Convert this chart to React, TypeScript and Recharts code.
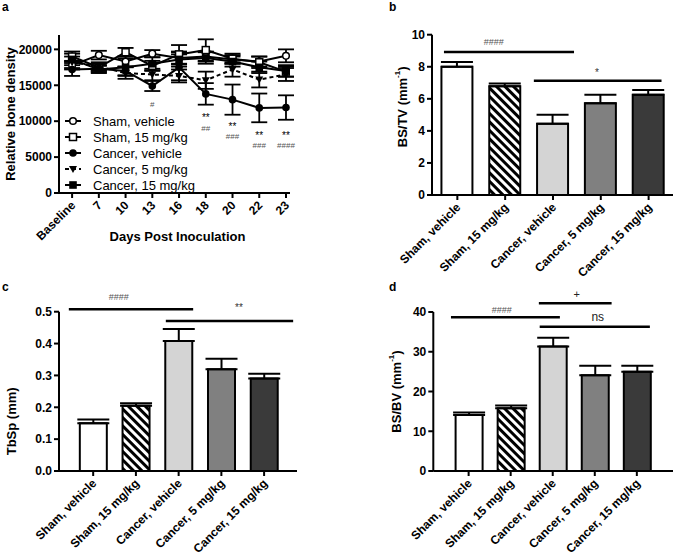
import React from "react"
import {
  LineChart,
  Line,
  BarChart,
  Bar,
  Cell,
  XAxis,
  YAxis,
  ErrorBar,
  ReferenceLine,
  ReferenceDot,
  Legend,
} from "recharts"

const font = '"Liberation Sans", Arial, Helvetica, sans-serif'

// ---- panel a: bone density over time ----
const days = ["Baseline", "7", "10", "13", "16", "18", "20", "22", "23"]
const shamVehicle = [17800, 19200, 18300, 19400, 18800, 19000, 18600, 18300, 19100]
const shamVehicleErr = [600, 600, 700, 500, 900, 700, 600, 700, 900]
const sham15 = [19000, 17500, 19600, 17700, 19300, 19900, 18700, 18200, 16900]
const sham15Err = [700, 500, 600, 700, 1300, 1500, 700, 800, 700]
const cancerVehicle = [17200, 17300, 17000, 14900, 17500, 13800, 13000, 11850, 11900]
const cancerVehicleErr = [900, 500, 600, 700, 1800, 1500, 2100, 2000, 1700]
const cancer5 = [18200, 17600, 16700, 16500, 16300, 15700, 17200, 15800, 16500]
const cancer5Err = [800, 600, 800, 800, 900, 1200, 1000, 1100, 900]
const cancer15 = [18600, 17200, 17500, 18000, 18600, 18800, 18300, 17500, 17000]
const cancer15Err = [800, 500, 1200, 900, 1000, 800, 700, 800, 800]

const starNotes = [
  { day: 5, v: 10450, text: "**" },
  { day: 6, v: 9200, text: "**" },
  { day: 7, v: 7950, text: "**" },
  { day: 8, v: 7950, text: "**" },
]
const hashNotes = [
  { day: 3, v: 12270, text: "#" },
  { day: 5, v: 8920, text: "##" },
  { day: 6, v: 7800, text: "###" },
  { day: 7, v: 6550, text: "###" },
  { day: 8, v: 6550, text: "####" },
]

// ---- panels b, c, d ----
const groups = ["Sham, vehicle", "Sham, 15 mg/kg", "Cancer, vehicle", "Cancer, 5 mg/kg", "Cancer, 15 mg/kg"]
const bsTv = [8.0, 6.78, 4.45, 5.72, 6.25]
const bsTvErr = [0.3, 0.17, 0.55, 0.53, 0.3]
const tbSp = [0.15, 0.205, 0.408, 0.319, 0.29]
const tbSpErr = [0.012, 0.008, 0.038, 0.033, 0.015]
const bsBv = [14.1, 15.8, 31.3, 24.1, 25.0]
const bsBvErr = [0.6, 0.7, 2.2, 2.4, 1.5]

// significance brackets (x in group index units, y in data units)
const bsTvBrackets = [
  { x1: -0.28, x2: 2.44, y: 8.92, tx: 0.76, ty: 9.56, text: "####", size: 9, color: "#555" },
  { x1: 1.6, x2: 4.27, y: 7.13, tx: 2.92, ty: 7.63, text: "*", size: 10, color: "#333" },
]
const tbSpBrackets = [
  { x1: -0.57, x2: 2.34, y: 0.508, tx: 0.6, ty: 0.546, text: "####", size: 9, color: "#555" },
  { x1: 1.7, x2: 4.68, y: 0.471, tx: 3.41, ty: 0.512, text: "**", size: 10, color: "#333" },
]
const bsBvBrackets = [
  { x1: -0.42, x2: 2.17, y: 38.7, tx: 0.79, ty: 40.5, text: "####", size: 9, color: "#555" },
  { x1: 1.67, x2: 3.4, y: 42.2, tx: 2.57, ty: 44.5, text: "+", size: 11, color: "#222" },
  { x1: 1.69, x2: 4.31, y: 36.3, tx: 3.07, ty: 38.7, text: "ns", size: 12, color: "#222" },
]

const barFills = ["#ffffff", "hatch", "#d4d4d4", "#808080", "#3a3a3a"]

const lineData = days.map((d, i) => ({
  idx: i,
  sv: shamVehicle[i],
  svE: shamVehicleErr[i],
  s15: sham15[i],
  s15E: sham15Err[i],
  cv: cancerVehicle[i],
  cvE: cancerVehicleErr[i],
  c5: cancer5[i],
  c5E: cancer5Err[i],
  c15: cancer15[i],
  c15E: cancer15Err[i],
}))

const lineSeries = [
  { key: "sv", err: "svE", name: "Sham, vehicle", shape: "openCircle", dash: undefined },
  { key: "s15", err: "s15E", name: "Sham, 15 mg/kg", shape: "openSquare", dash: undefined },
  { key: "cv", err: "cvE", name: "Cancer, vehicle", shape: "circle", dash: undefined },
  { key: "c5", err: "c5E", name: "Cancer, 5 mg/kg", shape: "triangle", dash: "4 3" },
  { key: "c15", err: "c15E", name: "Cancer, 15 mg/kg", shape: "square", dash: undefined },
]

const toBars = (vals: number[], errs: number[]) =>
  vals.map((v, i) => ({ idx: i, value: v, err: [0, errs[i]] }))

function marker(shape: string, cx: number, cy: number, key?: string) {
  switch (shape) {
    case "openCircle":
      return <circle key={key} cx={cx} cy={cy} r={3.3} fill="#fff" stroke="#000" strokeWidth={1.5} />
    case "openSquare":
      return <rect key={key} x={cx - 3.5} y={cy - 3.5} width={7} height={7} fill="#fff" stroke="#000" strokeWidth={1.5} />
    case "circle":
      return <circle key={key} cx={cx} cy={cy} r={3.8} fill="#000" />
    case "triangle":
      return <polygon key={key} points={`${cx - 4},${cy - 3} ${cx + 4},${cy - 3} ${cx},${cy + 4}`} fill="#000" />
    default:
      return <rect key={key} x={cx - 3.8} y={cy - 3.8} width={7.6} height={7.6} fill="#000" />
  }
}

const axisLine = { stroke: "#000", strokeWidth: 2 }
const tickStyle = { fontFamily: font, fontWeight: "bold", fontSize: 12, fill: "#000" }

function RotTick(props: any) {
  const { x, y, payload, labels } = props
  return (
    <g transform={`translate(${x + 4},${y + 6}) rotate(-45)`}>
      <text x={0} y={0} textAnchor="end" fontFamily={font} fontWeight="bold" fontSize={12} fill="#000">
        {labels[payload.value]}
      </text>
    </g>
  )
}

function YTitle(props: any) {
  const { viewBox, cx, shift, main, sup } = props
  const x = viewBox.x + cx
  const y = viewBox.y + viewBox.height / 2 + shift
  return (
    <text
      transform={`translate(${x},${y}) rotate(-90)`}
      textAnchor="middle"
      dominantBaseline="central"
      fontFamily={font}
      fontWeight="bold"
      fontSize={13}
      fill="#000"
    >
      {main}
      {sup ? <tspan fontSize={8} dy={-5}>{sup}</tspan> : null}
      {sup ? <tspan dy={5}>)</tspan> : null}
    </text>
  )
}

// small annotation text, centred on a data point
function Note(props: any) {
  const { viewBox, text, size, color } = props
  const x = viewBox.x + (viewBox.width || 0) / 2
  const y = viewBox.y + (viewBox.height || 0) / 2
  return (
    <text x={x} y={y} textAnchor="middle" dominantBaseline="central" fontFamily={font} fontSize={size} fill={color}>
      {text}
    </text>
  )
}

function LegendBox() {
  return (
    <div style={{ fontFamily: font, fontSize: 13, color: "#000" }}>
      {lineSeries.map((s) => (
        <div key={s.key} style={{ display: "flex", alignItems: "center", height: 16 }}>
          <svg width={31} height={16}>
            <line x1={3} x2={19} y1={8} y2={8} stroke="#000" strokeWidth={2} strokeDasharray={s.dash} />
            {marker(s.shape, 11, 8)}
          </svg>
          <span>{s.name}</span>
        </div>
      ))}
    </div>
  )
}

function Hatch({ id }: { id: string }) {
  return (
    <defs>
      <pattern id={id} patternUnits="userSpaceOnUse" width={6} height={6} patternTransform="rotate(-45)">
        <rect x={0} y={0} width={6} height={6} fill="#fff" />
        <rect x={0} y={0} width={3} height={6} fill="#000" />
      </pattern>
    </defs>
  )
}

function BarPanel(props: {
  id: string
  vals: number[]
  errs: number[]
  brackets: typeof bsTvBrackets
  width: number
  height: number
  margin: any
  yWidth: number
  yDomain: [number, number]
  yTicks: number[]
  yFmt?: (v: number) => string
  xDomain: [number, number]
  barSize: number
  title: string
  sup?: string
  titleX: number
  titleShift: number
}) {
  const data = toBars(props.vals, props.errs)
  const hatchId = `hatch-${props.id}`
  return (
    <BarChart width={props.width} height={props.height} data={data} margin={props.margin}>
      <Hatch id={hatchId} />
      <XAxis
        type="number"
        dataKey="idx"
        domain={props.xDomain}
        ticks={[0, 1, 2, 3, 4]}
        allowDataOverflow
        height={80}
        axisLine={axisLine}
        tickLine={axisLine}
        tickSize={5}
        interval={0}
        tick={(p: any) => <RotTick {...p} labels={groups} />}
      />
      <YAxis
        width={props.yWidth}
        domain={props.yDomain}
        ticks={props.yTicks}
        allowDataOverflow
        axisLine={axisLine}
        tickLine={axisLine}
        tickSize={5}
        tick={tickStyle}
        tickFormatter={props.yFmt}
        label={{
          content: (p: any) => (
            <YTitle {...p} cx={props.titleX} shift={props.titleShift} main={props.title} sup={props.sup} />
          ),
        }}
      />
      <Bar dataKey="value" barSize={props.barSize} stroke="#000" strokeWidth={2} isAnimationActive={false}>
        {data.map((d, i) => (
          <Cell key={d.idx} fill={barFills[i] === "hatch" ? `url(#${hatchId})` : barFills[i]} />
        ))}
        <ErrorBar dataKey="err" direction="y" width={16} stroke="#000" strokeWidth={2} />
      </Bar>
      {props.brackets.map((b, i) => (
        <ReferenceLine
          key={`l${i}`}
          segment={[
            { x: b.x1, y: b.y },
            { x: b.x2, y: b.y },
          ]}
          stroke="#000"
          strokeWidth={2.5}
          ifOverflow="visible"
        />
      ))}
      {props.brackets.map((b, i) => (
        <ReferenceDot
          key={`t${i}`}
          x={b.tx}
          y={b.ty}
          r={0}
          fill="none"
          stroke="none"
          ifOverflow="visible"
          label={{ content: (p: any) => <Note {...p} text={b.text} size={b.size} color={b.color} /> }}
        />
      ))}
    </BarChart>
  )
}

const letterStyle: React.CSSProperties = {
  position: "absolute",
  fontFamily: font,
  fontWeight: "bold",
  fontSize: 12,
  lineHeight: "12px",
}

export default function App() {
  return (
    <div style={{ position: "absolute", left: 0, top: 0, width: 675, height: 556, background: "#fff" }}>
      <style>{`svg.recharts-surface { overflow: visible; }`}</style>
      <div style={{ ...letterStyle, left: 2, top: 1 }}>a</div>
      <div style={{ ...letterStyle, left: 389, top: 1 }}>b</div>
      <div style={{ ...letterStyle, left: 2, top: 281 }}>c</div>
      <div style={{ ...letterStyle, left: 389, top: 281 }}>d</div>

      <div style={{ position: "absolute", left: 0, top: 0 }}>
        <LineChart width={300} height={256} data={lineData} margin={{ top: 35, right: 10, bottom: 13, left: 0 }}>
          <XAxis
            type="number"
            dataKey="idx"
            domain={[-0.49, 8.15]}
            ticks={[0, 1, 2, 3, 4, 5, 6, 7, 8]}
            allowDataOverflow
            height={50}
            axisLine={axisLine}
            tickLine={axisLine}
            tickSize={5}
            interval={0}
            tick={(p: any) => <RotTick {...p} labels={days} />}
            label={{
              value: "Days Post Inoculation",
              position: "insideBottom",
              offset: 2,
              dx: 3,
              fontFamily: font,
              fontWeight: "bold",
              fontSize: 13,
              fill: "#000",
            }}
          />
          <YAxis
            width={59}
            domain={[0, 22000]}
            ticks={[0, 5000, 10000, 15000, 20000]}
            allowDataOverflow
            axisLine={axisLine}
            tickLine={axisLine}
            tickSize={5}
            tick={tickStyle}
            label={{
              content: (p: any) => <YTitle {...p} cx={10} shift={0} main="Relative bone density" />,
            }}
          />
          <Legend
            layout="vertical"
            align="center"
            verticalAlign="middle"
            content={LegendBox}
            wrapperStyle={{ position: "absolute", left: 62, top: 113, width: "auto", height: "auto" }}
          />
          {lineSeries.map((s) => (
            <Line
              key={s.key}
              dataKey={s.key}
              name={s.name}
              stroke="#000"
              strokeWidth={2}
              strokeDasharray={s.dash}
              isAnimationActive={false}
              dot={(p: any) => marker(s.shape, p.cx, p.cy, `${s.key}-${p.index}`)}
            >
              <ErrorBar dataKey={s.err} direction="y" width={8} stroke="#000" strokeWidth={1.8} />
            </Line>
          ))}
          {starNotes.map((n, i) => (
            <ReferenceDot
              key={`s${i}`}
              x={n.day}
              y={n.v}
              r={0}
              fill="none"
              stroke="none"
              ifOverflow="visible"
              label={{ content: (p: any) => <Note {...p} text={n.text} size={10} color="#000" /> }}
            />
          ))}
          {hashNotes.map((n, i) => (
            <ReferenceDot
              key={`h${i}`}
              x={n.day}
              y={n.v}
              r={0}
              fill="none"
              stroke="none"
              ifOverflow="visible"
              label={{ content: (p: any) => <Note {...p} text={n.text} size={8} color="#555" /> }}
            />
          ))}
        </LineChart>
      </div>

      <div style={{ position: "absolute", left: 340, top: 0 }}>
        <BarPanel
          id="b"
          vals={bsTv}
          errs={bsTvErr}
          brackets={bsTvBrackets}
          width={335}
          height={280}
          margin={{ top: 34.7, right: 2, bottom: 5, left: 0 }}
          yWidth={92}
          yDomain={[0, 10]}
          yTicks={[0, 2, 4, 6, 8, 10]}
          xDomain={[-0.53, 4.51]}
          barSize={31}
          title="BS/TV  (mm"
          sup="-1"
          titleX={62}
          titleShift={-8}
        />
      </div>

      <div style={{ position: "absolute", left: 0, top: 280 }}>
        <BarPanel
          id="c"
          vals={tbSp}
          errs={tbSpErr}
          brackets={tbSpBrackets}
          width={300}
          height={276}
          margin={{ top: 31.7, right: 3, bottom: 5, left: 0 }}
          yWidth={59}
          yDomain={[0, 0.5]}
          yTicks={[0, 0.1, 0.2, 0.3, 0.4, 0.5]}
          yFmt={(v) => v.toFixed(1)}
          xDomain={[-0.8, 4.77]}
          barSize={27}
          title="TbSp (mm)"
          titleX={11}
          titleShift={30}
        />
      </div>

      <div style={{ position: "absolute", left: 340, top: 280 }}>
        <BarPanel
          id="d"
          vals={bsBv}
          errs={bsBvErr}
          brackets={bsBvBrackets}
          width={335}
          height={276}
          margin={{ top: 32, right: 2, bottom: 5, left: 0 }}
          yWidth={93.3}
          yDomain={[0, 40]}
          yTicks={[0, 10, 20, 30, 40]}
          xDomain={[-0.84, 4.86]}
          barSize={27}
          title="BS/BV (mm"
          sup="-1"
          titleX={56}
          titleShift={0}
        />
      </div>
    </div>
  )
}
